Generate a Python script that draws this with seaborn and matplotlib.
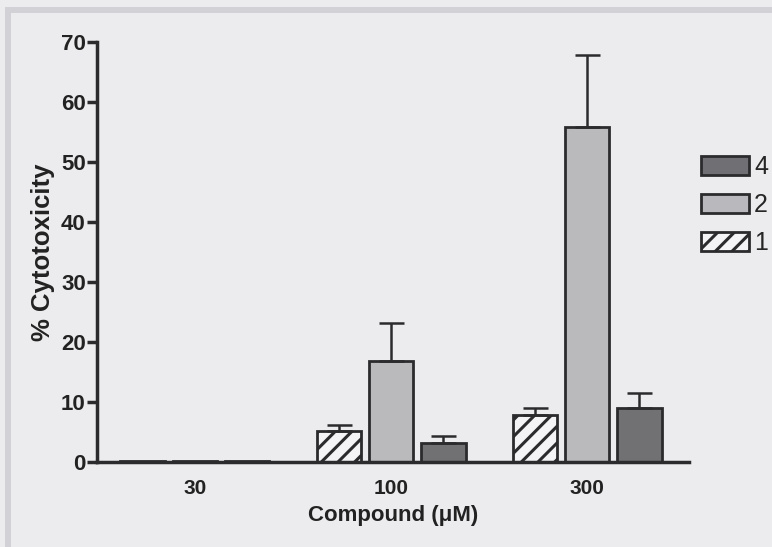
import matplotlib
matplotlib.use('Agg')
import matplotlib.pyplot as plt
import seaborn as sns
import pandas as pd
from matplotlib.patches import Patch, Rectangle

# values
concentrations = ['30', '100', '300']
compounds = ['1', '2', '4']
mean_1 = [0.2, 5.1, 7.9]
mean_2 = [0.2, 16.8, 55.8]
mean_4 = [0.1, 3.1, 9.0]
err_1 = [0.0, 1.1, 1.1]
err_2 = [0.0, 6.4, 12.0]
err_4 = [0.0, 1.2, 2.5]

means = {'1': mean_1, '2': mean_2, '4': mean_4}
errs = {'1': err_1, '2': err_2, '4': err_4}

rows = []
for c in compounds:
    for i, conc in enumerate(concentrations):
        rows.append({'conc': conc, 'compound': c, 'value': means[c][i]})
df = pd.DataFrame(rows)

sns.set_style('ticks')
plt.rcParams['font.family'] = ['Liberation Sans', 'DejaVu Sans']
plt.rcParams['hatch.linewidth'] = 2.2

bg = '#ececee'
edge = '#2b2b2d'
colors = {'1': '#f4f4f6', '2': '#b9b9bd', '4': '#707074'}

fig = plt.figure(figsize=(7.72, 5.47), dpi=100, facecolor=bg)
ax = fig.add_axes([0.1256, 0.1554, 0.7669, 0.7684])
ax.set_facecolor('none')

sns.barplot(data=df, x='conc', y='value', hue='compound', order=concentrations,
            hue_order=compounds, palette=colors, width=0.8, gap=0.15,
            edgecolor=edge, linewidth=2, errorbar=None, legend=False, ax=ax)

for comp, cont in zip(compounds, ax.containers):
    for bar, e in zip(cont.patches, errs[comp]):
        if comp == '1':
            bar.set_hatch('//')
        if e > 0:
            x = bar.get_x() + bar.get_width() / 2
            h = bar.get_height()
            ax.errorbar(x, h, yerr=[[0], [e]], fmt='none', ecolor=edge,
                        elinewidth=1.8, capsize=9, capthick=1.8, zorder=1)

ax.set_ylim(0, 70)
ax.set_xlim(-0.5, 2.52)
ax.set_yticks(range(0, 71, 10))
sns.despine(ax=ax)
for s in ['left', 'bottom']:
    ax.spines[s].set_linewidth(2.5)
    ax.spines[s].set_color(edge)
ax.tick_params(axis='y', length=7, width=2.5, color=edge, labelsize=16, pad=1)
ax.tick_params(axis='x', length=0, labelsize=15, pad=12)
for lab in ax.get_xticklabels() + ax.get_yticklabels():
    lab.set_fontweight('bold')
    lab.set_color('#222222')

ax.set_xlabel('Compound (μM)', fontsize=16, fontweight='bold', color='#222222', labelpad=5)
ax.set_ylabel('% Cytotoxicity', fontsize=18.5, fontweight='bold', color='#222222', labelpad=4)

handles = [Patch(facecolor=colors['4'], edgecolor=edge, linewidth=2),
           Patch(facecolor=colors['2'], edgecolor=edge, linewidth=2),
           Patch(facecolor=colors['1'], edgecolor=edge, linewidth=2, hatch='//')]
fig.legend(handles, ['4', '2', '1'], loc='upper left', bbox_to_anchor=(0.908, 0.716),
           frameon=False, fontsize=18, handlelength=1.92, handleheight=0.8,
           handletextpad=0.2, labelspacing=0.55, borderpad=0, borderaxespad=0)

# scanned page frame
fig.patches.append(Rectangle((0.0104, -0.05), 1.1, 1.0317, transform=fig.transFigure,
                             fill=False, edgecolor='#d2d2d6', linewidth=4.3))

fig.savefig('out.png', dpi=100, facecolor=bg)
